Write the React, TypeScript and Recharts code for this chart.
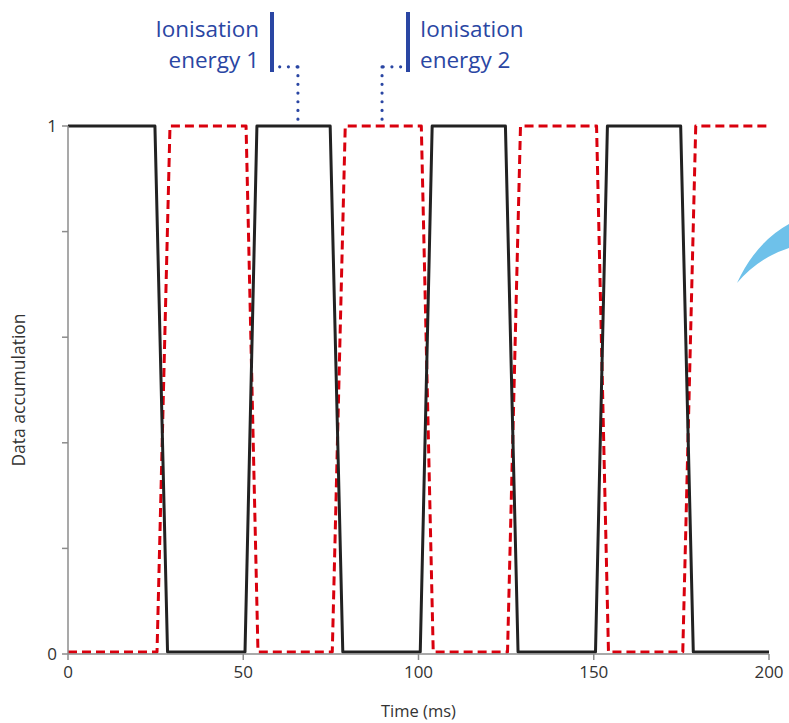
import React from 'react';
import { LineChart, Line, XAxis, YAxis, ReferenceLine } from 'recharts';

// black: ionisation energy 1 window, red dashed: ionisation energy 2 window
const blackTimes = [0, 24.8, 28.4, 50.5, 53.9, 74.8, 78.4, 100.5, 103.9, 124.8, 128.4, 150.5, 153.9, 174.8, 178.4, 200];
const blackValues = [1, 1, 0.004, 0.004, 1, 1, 0.004, 0.004, 1, 1, 0.004, 0.004, 1, 1, 0.004, 0.004];

const redTimes = [0, 25.4, 29.1, 50.8, 54.2, 75.4, 79.1, 100.8, 104.2, 125.4, 129.1, 150.8, 154.2, 175.4, 179.1, 200];
const redValues = [0.004, 0.004, 1, 1, 0.004, 0.004, 1, 1, 0.004, 0.004, 1, 1, 0.004, 0.004, 1, 1];

const xTicks = [0, 50, 100, 150, 200];
const yTicks = [0, 0.2, 0.4, 0.6, 0.8, 1];

// pointer ends of the two annotations (time, accumulation)
const pointer1 = { t: 65.6, from: 60.4, y: 1.112, to: 1.013 };
const pointer2 = { t: 89.6, from: 94.9, y: 1.112, to: 1.013 };

const blackData = blackTimes.map((t, i) => ({ t, v: blackValues[i] }));
const redData = redTimes.map((t, i) => ({ t, v: redValues[i] }));

const BLUE = '#2a46a3';
const AXIS = '#8c8c8c';
const FONT = '"Open Sans", "Noto Sans", sans-serif';

export default function App() {
    const dotStyle = {
        stroke: BLUE,
        strokeWidth: 3.2,
        strokeDasharray: '0 8.7',
        strokeLinecap: 'round' as const,
        ifOverflow: 'visible' as const,
    };

    return (
        <div style={{ position: 'absolute', left: 0, top: 0, width: 789, height: 723, background: '#fff' }}>
            <LineChart
                width={789}
                height={723}
                margin={{ top: 126, right: 20, bottom: 0, left: 0 }}
                style={{ fontFamily: FONT }}
            >
                <XAxis
                    type="number"
                    dataKey="t"
                    domain={[0, 200]}
                    ticks={xTicks}
                    height={69}
                    tickSize={6}
                    tickMargin={6}
                    stroke={AXIS}
                    strokeWidth={1.5}
                    tick={{ fill: '#333', fontSize: 17 }}
                    label={{
                        value: 'Time (ms)',
                        position: 'insideBottom',
                        offset: 6,
                        style: { fill: '#333', fontSize: 16.5 },
                    }}
                />
                <YAxis
                    type="number"
                    dataKey="v"
                    domain={[0, 1]}
                    ticks={yTicks}
                    width={68}
                    tickSize={6}
                    tickMargin={5}
                    stroke={AXIS}
                    strokeWidth={1.5}
                    tick={{ fill: '#333', fontSize: 17 }}
                    tickFormatter={(v: number) => (v === 0 || v === 1 ? String(v) : '')}
                    label={{
                        value: 'Data accumulation',
                        angle: -90,
                        position: 'insideLeft',
                        offset: 19,
                        style: { textAnchor: 'middle', fill: '#333', fontSize: 17.5 },
                    }}
                />
                <Line
                    data={redData}
                    dataKey="v"
                    type="linear"
                    stroke="#d9000d"
                    strokeWidth={3}
                    strokeDasharray="9 5"
                    strokeLinejoin="round"
                    dot={false}
                    activeDot={false}
                    isAnimationActive={false}
                />
                <Line
                    data={blackData}
                    dataKey="v"
                    type="linear"
                    stroke="#222"
                    strokeWidth={3}
                    strokeLinejoin="round"
                    dot={false}
                    activeDot={false}
                    isAnimationActive={false}
                />
                <ReferenceLine
                    segment={[{ x: pointer1.from, y: pointer1.y }, { x: pointer1.t, y: pointer1.y }]}
                    {...dotStyle}
                />
                <ReferenceLine
                    segment={[{ x: pointer1.t, y: pointer1.to }, { x: pointer1.t, y: pointer1.y }]}
                    {...dotStyle}
                />
                <ReferenceLine
                    segment={[{ x: pointer2.from, y: pointer2.y }, { x: pointer2.t, y: pointer2.y }]}
                    {...dotStyle}
                />
                <ReferenceLine
                    segment={[{ x: pointer2.t, y: pointer2.to }, { x: pointer2.t, y: pointer2.y }]}
                    {...dotStyle}
                />
            </LineChart>

            {/* annotation labels and decoration */}
            <svg
                width={789}
                height={723}
                style={{ position: 'absolute', left: 0, top: 0, pointerEvents: 'none' }}
            >
                <g fill={BLUE} style={{ fontFamily: FONT, fontSize: 22.5 }}>
                    <text x={259} y={37} textAnchor="end">Ionisation</text>
                    <text x={259} y={68} textAnchor="end">energy 1</text>
                    <text x={420} y={37}>Ionisation</text>
                    <text x={420} y={68}>energy 2</text>
                </g>
                <rect x={270} y={12} width={4} height={60} fill={BLUE} />
                <rect x={406} y={12} width={4} height={60} fill={BLUE} />
                <path d="M737,283 Q756,242 789,224 L789,248 Q758,258 737,283 Z" fill="#6ec1ea" />
            </svg>
        </div>
    );
}
